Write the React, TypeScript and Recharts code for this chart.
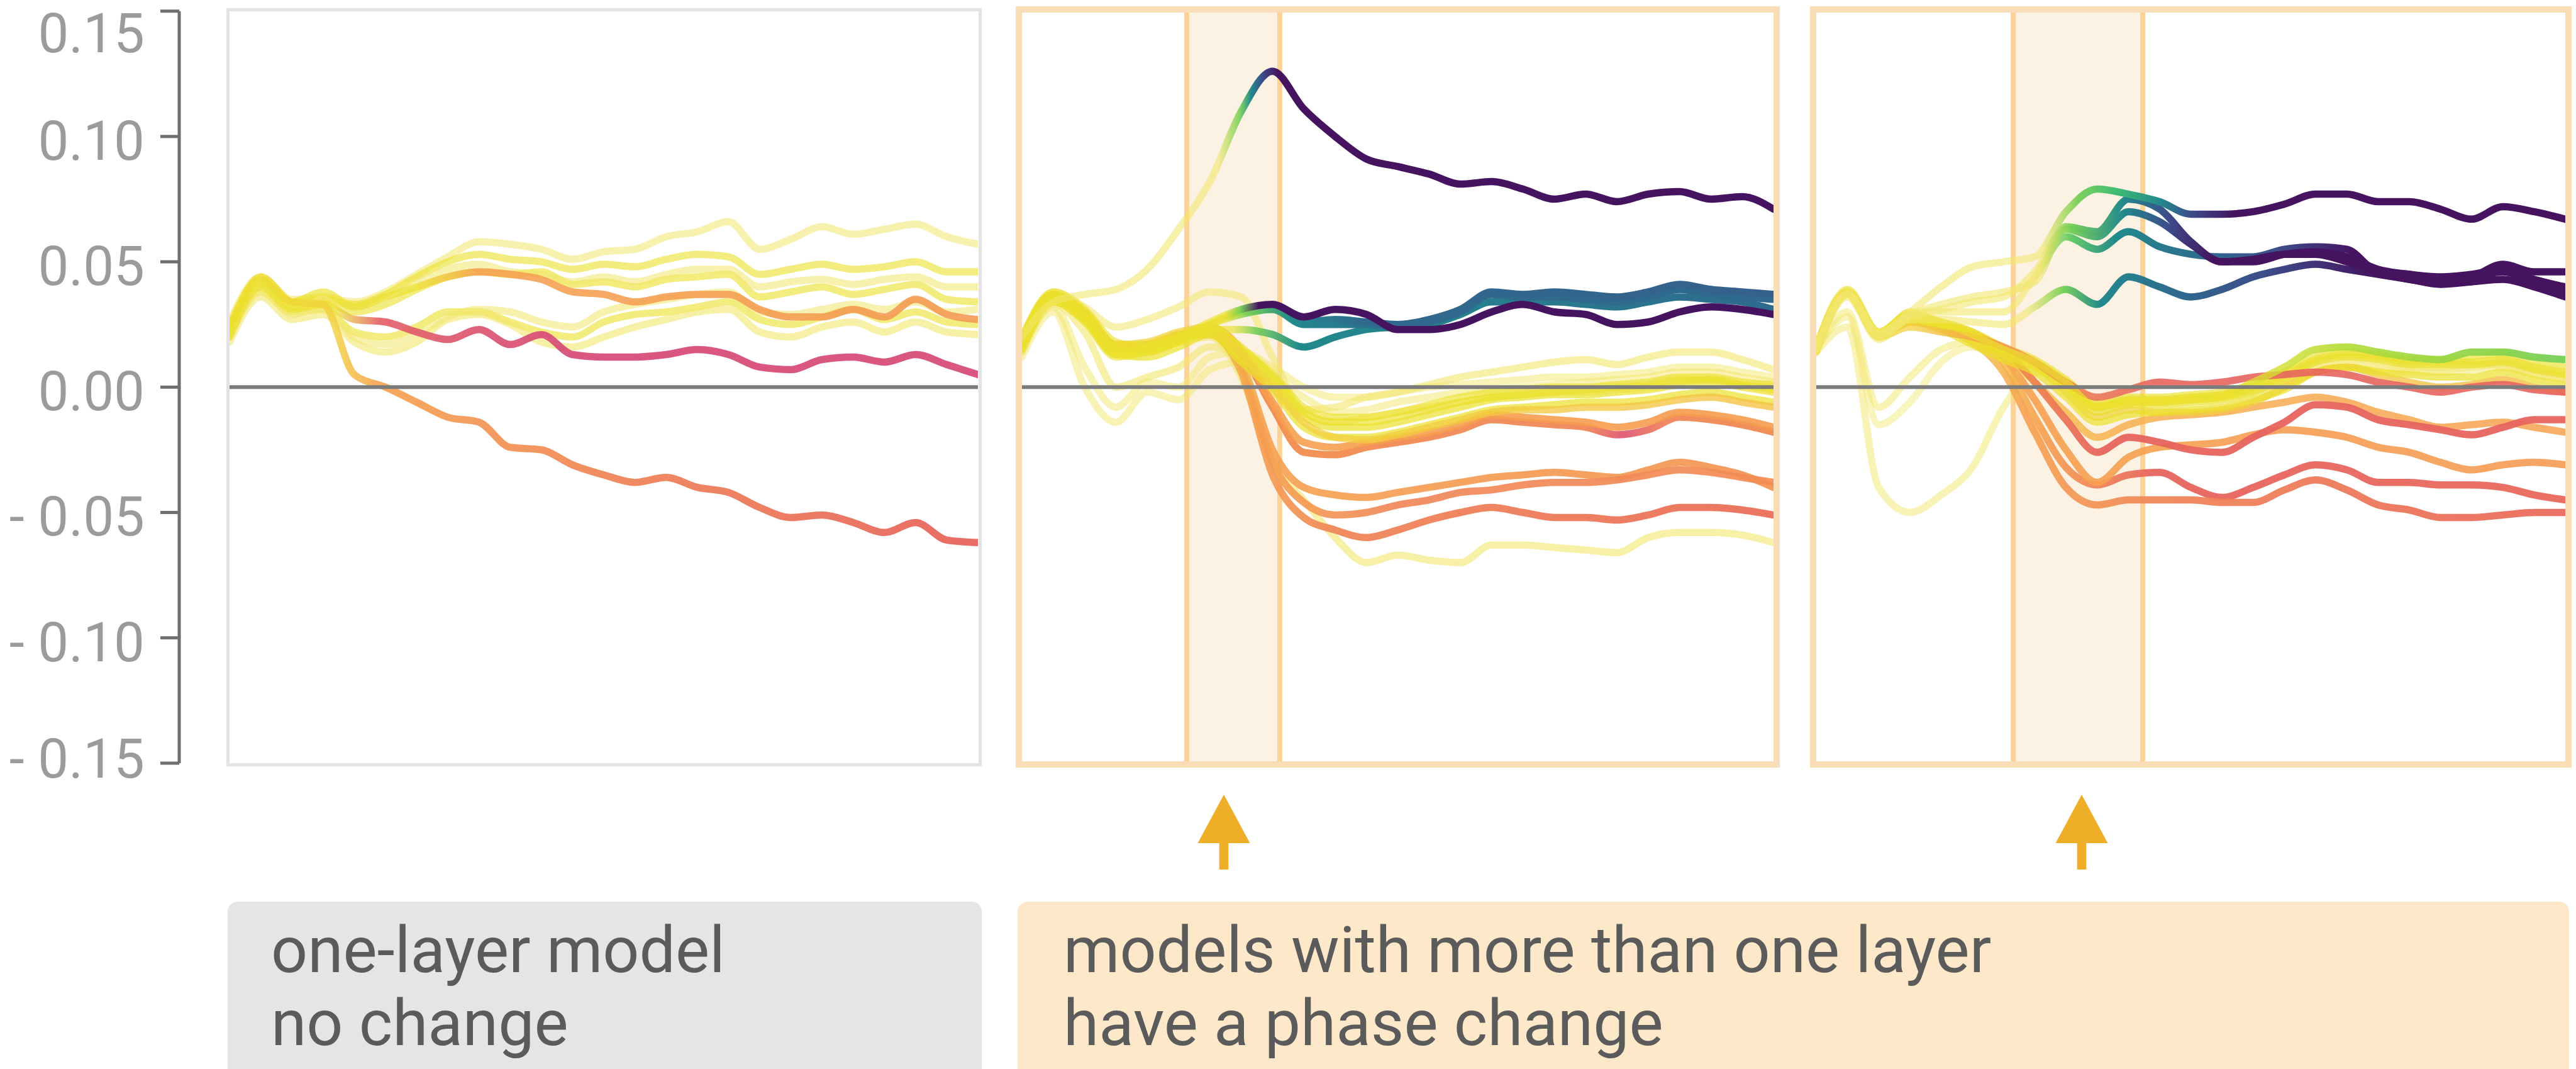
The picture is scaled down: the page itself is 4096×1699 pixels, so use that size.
import { LineChart, Line, XAxis, YAxis, ReferenceLine, ReferenceArea } from "recharts";

// training steps (x index) shared by every panel
const STEPS = [0, 1, 2, 3, 4, 5, 6, 7, 8, 9, 10, 11, 12, 13, 14, 15, 16, 17, 18, 19, 20, 21, 22, 23, 24];
const Y_TICKS = [0.15, 0.1, 0.05, 0, -0.05, -0.1, -0.15];

// phase change window, in step units
const BAND_TWO = [5.26, 8.23];
const BAND_THREE = [6.31, 10.46];

// ---- panel 1: one-layer model
const oneRed = [0.022, 0.044, 0.034, 0.033, 0.005, 0.0, -0.006, -0.012, -0.014, -0.024, -0.025, -0.031, -0.035, -0.038, -0.036, -0.04, -0.042, -0.048, -0.052, -0.051, -0.054, -0.058, -0.054, -0.061, -0.062];
const onePink = [0.02, 0.04, 0.031, 0.033, 0.027, 0.026, 0.022, 0.019, 0.023, 0.017, 0.021, 0.013, 0.012, 0.012, 0.013, 0.015, 0.013, 0.008, 0.007, 0.011, 0.012, 0.01, 0.013, 0.009, 0.005];
const oneOrange = [0.024, 0.043, 0.034, 0.038, 0.032, 0.036, 0.04, 0.044, 0.046, 0.045, 0.043, 0.038, 0.037, 0.034, 0.036, 0.037, 0.037, 0.031, 0.028, 0.028, 0.031, 0.028, 0.035, 0.029, 0.027];
const oneTop = [0.026, 0.044, 0.035, 0.036, 0.034, 0.038, 0.045, 0.052, 0.058, 0.057, 0.055, 0.051, 0.054, 0.055, 0.06, 0.062, 0.066, 0.055, 0.059, 0.064, 0.061, 0.063, 0.065, 0.06, 0.057];
const oneHigh = [0.024, 0.042, 0.034, 0.035, 0.033, 0.037, 0.044, 0.05, 0.053, 0.051, 0.05, 0.047, 0.049, 0.048, 0.051, 0.053, 0.052, 0.045, 0.047, 0.049, 0.047, 0.048, 0.05, 0.046, 0.046];
const oneMid = [0.023, 0.041, 0.032, 0.034, 0.03, 0.033, 0.039, 0.044, 0.046, 0.045, 0.046, 0.041, 0.042, 0.04, 0.043, 0.044, 0.045, 0.036, 0.038, 0.04, 0.037, 0.039, 0.041, 0.035, 0.034];
const oneMid2 = [0.025, 0.043, 0.034, 0.036, 0.032, 0.036, 0.042, 0.047, 0.049, 0.046, 0.045, 0.042, 0.044, 0.042, 0.045, 0.047, 0.047, 0.04, 0.042, 0.043, 0.041, 0.043, 0.044, 0.04, 0.04];
const oneLow = [0.02, 0.038, 0.03, 0.031, 0.022, 0.02, 0.024, 0.03, 0.03, 0.026, 0.022, 0.02, 0.026, 0.029, 0.03, 0.032, 0.034, 0.027, 0.025, 0.028, 0.031, 0.027, 0.03, 0.026, 0.025];
const oneLow2 = [0.018, 0.036, 0.027, 0.029, 0.018, 0.014, 0.018, 0.027, 0.029, 0.025, 0.018, 0.016, 0.02, 0.024, 0.027, 0.03, 0.031, 0.022, 0.02, 0.024, 0.026, 0.022, 0.026, 0.022, 0.021];
const oneLow3 = [0.021, 0.039, 0.029, 0.032, 0.02, 0.017, 0.021, 0.028, 0.031, 0.03, 0.026, 0.024, 0.03, 0.033, 0.035, 0.037, 0.038, 0.03, 0.029, 0.031, 0.033, 0.031, 0.034, 0.03, 0.031];

// ---- panel 2: two-layer model
const twoSpike = [0.02, 0.034, 0.037, 0.039, 0.047, 0.063, 0.082, 0.11, 0.126, 0.111, 0.1, 0.091, 0.088, 0.085, 0.081, 0.082, 0.079, 0.075, 0.077, 0.074, 0.077, 0.078, 0.075, 0.076, 0.071];
const twoPurple = [0.016, 0.036, 0.028, 0.014, 0.016, 0.02, 0.026, 0.031, 0.033, 0.028, 0.031, 0.029, 0.023, 0.023, 0.025, 0.03, 0.033, 0.03, 0.029, 0.025, 0.026, 0.03, 0.032, 0.031, 0.029];
const twoBlue = [0.016, 0.035, 0.027, 0.013, 0.015, 0.019, 0.025, 0.03, 0.031, 0.025, 0.025, 0.025, 0.024, 0.026, 0.03, 0.037, 0.036, 0.036, 0.035, 0.034, 0.036, 0.039, 0.037, 0.036, 0.035];
const twoTeal = [0.015, 0.034, 0.026, 0.012, 0.014, 0.018, 0.023, 0.023, 0.021, 0.016, 0.02, 0.023, 0.024, 0.025, 0.029, 0.034, 0.034, 0.034, 0.033, 0.032, 0.034, 0.036, 0.035, 0.034, 0.031];
const twoBlue2 = [0.017, 0.036, 0.028, 0.014, 0.016, 0.02, 0.025, 0.029, 0.031, 0.026, 0.027, 0.026, 0.025, 0.027, 0.031, 0.038, 0.037, 0.038, 0.037, 0.036, 0.038, 0.041, 0.039, 0.038, 0.037];
const twoYellowA = [0.017, 0.036, 0.03, 0.016, 0.014, 0.018, 0.022, 0.012, 0.002, -0.012, -0.016, -0.016, -0.014, -0.011, -0.008, -0.005, -0.004, -0.003, -0.003, -0.002, -0.001, 0.001, 0.002, 0.0, -0.002];
const twoYellowB = [0.019, 0.038, 0.031, 0.018, 0.016, 0.02, 0.024, 0.015, 0.005, -0.008, -0.012, -0.012, -0.01, -0.007, -0.004, -0.002, -0.001, 0.0, 0.0, 0.001, 0.002, 0.004, 0.004, 0.002, 0.001];
const twoYellowC = [0.015, 0.034, 0.027, 0.013, 0.012, 0.016, 0.021, 0.01, -0.001, -0.016, -0.02, -0.02, -0.018, -0.015, -0.012, -0.009, -0.008, -0.007, -0.006, -0.006, -0.005, -0.003, -0.002, -0.004, -0.006];
const twoYellowD = [0.02, 0.037, 0.03, 0.017, 0.017, 0.021, 0.023, 0.013, 0.0, -0.014, -0.02, -0.021, -0.019, -0.016, -0.013, -0.01, -0.009, -0.009, -0.008, -0.008, -0.007, -0.005, -0.004, -0.006, -0.008];
const twoYellowE = [0.018, 0.037, 0.029, 0.015, 0.015, 0.019, 0.023, 0.016, 0.004, -0.01, -0.014, -0.014, -0.012, -0.009, -0.006, -0.004, -0.003, -0.002, -0.001, 0.0, 0.001, 0.003, 0.003, 0.001, -0.001];
const twoOrangeA = [0.018, 0.036, 0.029, 0.016, 0.017, 0.021, 0.023, 0.014, -0.008, -0.026, -0.027, -0.024, -0.022, -0.02, -0.017, -0.013, -0.014, -0.015, -0.016, -0.019, -0.017, -0.012, -0.013, -0.015, -0.018];
const twoOrangeB = [0.019, 0.037, 0.03, 0.017, 0.018, 0.022, 0.024, 0.015, -0.006, -0.022, -0.024, -0.022, -0.02, -0.018, -0.015, -0.011, -0.012, -0.013, -0.014, -0.016, -0.014, -0.01, -0.011, -0.013, -0.016];
const twoOrangeC = [0.019, 0.037, 0.029, 0.016, 0.017, 0.021, 0.022, 0.01, -0.025, -0.04, -0.043, -0.044, -0.042, -0.04, -0.038, -0.036, -0.035, -0.034, -0.035, -0.036, -0.033, -0.03, -0.032, -0.035, -0.04];
const twoOrangeD = [0.018, 0.036, 0.028, 0.015, 0.016, 0.02, 0.022, 0.008, -0.03, -0.046, -0.051, -0.05, -0.047, -0.045, -0.042, -0.041, -0.039, -0.038, -0.038, -0.037, -0.035, -0.033, -0.034, -0.036, -0.038];
const twoRed = [0.017, 0.035, 0.027, 0.014, 0.015, 0.019, 0.021, 0.006, -0.035, -0.052, -0.057, -0.06, -0.057, -0.053, -0.05, -0.048, -0.05, -0.052, -0.052, -0.053, -0.051, -0.048, -0.048, -0.049, -0.051];
const twoPaleLow = [0.016, 0.034, 0.026, 0.013, 0.014, 0.018, 0.02, 0.004, -0.03, -0.045, -0.06, -0.07, -0.067, -0.069, -0.07, -0.063, -0.063, -0.064, -0.065, -0.066, -0.06, -0.058, -0.058, -0.059, -0.062];
const twoPaleHigh = [0.014, 0.033, 0.022, 0.0, 0.004, 0.008, 0.016, 0.014, 0.006, -0.009, -0.008, -0.004, -0.002, 0.001, 0.004, 0.006, 0.008, 0.01, 0.011, 0.009, 0.012, 0.014, 0.014, 0.011, 0.007];
const twoPaleDip = [0.012, 0.03, 0.0, -0.014, -0.002, -0.005, 0.007, 0.01, 0.004, -0.004, -0.01, -0.009, -0.006, -0.004, -0.002, -0.001, 0.0, 0.001, 0.002, 0.003, 0.004, 0.006, 0.006, 0.004, 0.002];
const twoPaleDip2 = [0.014, 0.032, 0.008, -0.008, 0.002, 0.0, 0.012, 0.014, 0.008, 0.0, -0.004, -0.004, -0.002, 0.0, 0.001, 0.002, 0.003, 0.004, 0.004, 0.005, 0.006, 0.008, 0.008, 0.006, 0.004];
const twoPaleBump = [0.02, 0.038, 0.032, 0.024, 0.027, 0.032, 0.038, 0.036, 0.012, -0.01, -0.014, -0.012, -0.01, -0.008, -0.006, -0.004, -0.003, -0.002, -0.002, -0.001, 0.0, 0.002, 0.003, 0.001, 0.0];

// ---- panel 3: three-layer model
const threeTop = [0.016, 0.038, 0.022, 0.03, 0.04, 0.048, 0.05, 0.052, 0.07, 0.079, 0.077, 0.074, 0.069, 0.069, 0.07, 0.073, 0.077, 0.077, 0.074, 0.074, 0.071, 0.067, 0.072, 0.07, 0.067];
const threeUpper = [0.015, 0.037, 0.021, 0.029, 0.033, 0.036, 0.038, 0.042, 0.064, 0.062, 0.075, 0.071, 0.058, 0.05, 0.051, 0.053, 0.053, 0.05, 0.046, 0.043, 0.042, 0.044, 0.049, 0.046, 0.046];
const threeUpper2 = [0.015, 0.037, 0.021, 0.029, 0.031, 0.034, 0.036, 0.046, 0.063, 0.06, 0.07, 0.066, 0.057, 0.05, 0.05, 0.053, 0.054, 0.052, 0.047, 0.045, 0.044, 0.045, 0.047, 0.043, 0.04];
const threeTeal = [0.015, 0.037, 0.02, 0.028, 0.03, 0.03, 0.03, 0.044, 0.06, 0.055, 0.062, 0.056, 0.053, 0.052, 0.052, 0.055, 0.056, 0.055, 0.046, 0.045, 0.043, 0.044, 0.046, 0.042, 0.038];
const threeTealLow = [0.014, 0.036, 0.019, 0.027, 0.027, 0.026, 0.025, 0.032, 0.039, 0.033, 0.044, 0.04, 0.036, 0.039, 0.044, 0.047, 0.049, 0.047, 0.045, 0.043, 0.041, 0.042, 0.043, 0.04, 0.036];
const threeYellowA = [0.015, 0.038, 0.021, 0.028, 0.024, 0.019, 0.013, 0.008, 0.0, -0.01, -0.007, -0.007, -0.006, -0.005, -0.002, 0.003, 0.01, 0.012, 0.011, 0.009, 0.009, 0.009, 0.01, 0.007, 0.005];
const threeYellowB = [0.016, 0.039, 0.022, 0.029, 0.026, 0.022, 0.016, 0.011, 0.003, -0.006, -0.004, -0.004, -0.003, -0.002, 0.001, 0.006, 0.012, 0.014, 0.013, 0.011, 0.011, 0.012, 0.013, 0.01, 0.008];
const threeYellowC = [0.014, 0.037, 0.02, 0.027, 0.023, 0.017, 0.011, 0.006, -0.004, -0.014, -0.011, -0.01, -0.009, -0.008, -0.005, -0.001, 0.006, 0.008, 0.006, 0.005, 0.004, 0.004, 0.006, 0.003, 0.001];
const threeYellowD = [0.015, 0.038, 0.021, 0.03, 0.025, 0.02, 0.014, 0.009, -0.002, -0.012, -0.009, -0.01, -0.01, -0.009, -0.006, 0.0, 0.006, 0.008, 0.005, 0.002, 0.0, 0.001, 0.003, 0.0, -0.002];
const threeYellowE = [0.016, 0.038, 0.022, 0.029, 0.025, 0.021, 0.015, 0.01, 0.001, -0.008, -0.006, -0.006, -0.005, -0.004, 0.0, 0.005, 0.011, 0.013, 0.012, 0.01, 0.01, 0.01, 0.011, 0.008, 0.006];
const threeGreen = [0.016, 0.038, 0.022, 0.029, 0.026, 0.021, 0.015, 0.01, 0.002, -0.008, -0.005, -0.005, -0.004, -0.003, 0.002, 0.008, 0.015, 0.016, 0.014, 0.012, 0.011, 0.014, 0.014, 0.012, 0.011];
const threeRedZero = [0.015, 0.038, 0.02, 0.024, 0.022, 0.02, 0.016, 0.01, 0.002, -0.004, -0.001, 0.002, 0.001, 0.002, 0.004, 0.005, 0.006, 0.005, 0.002, 0.0, -0.002, 0.0, 0.001, -0.001, -0.002];
const threeRed = [0.015, 0.038, 0.02, 0.026, 0.024, 0.021, 0.015, 0.002, -0.013, -0.026, -0.02, -0.022, -0.025, -0.026, -0.02, -0.014, -0.007, -0.008, -0.013, -0.015, -0.017, -0.019, -0.016, -0.013, -0.013];
const threeOrange = [0.016, 0.038, 0.021, 0.027, 0.025, 0.021, 0.012, -0.005, -0.025, -0.038, -0.028, -0.024, -0.023, -0.022, -0.019, -0.017, -0.018, -0.02, -0.024, -0.026, -0.03, -0.033, -0.031, -0.03, -0.031];
const threeOrange2 = [0.016, 0.038, 0.021, 0.028, 0.026, 0.022, 0.014, 0.002, -0.01, -0.02, -0.015, -0.012, -0.011, -0.01, -0.008, -0.006, -0.004, -0.006, -0.01, -0.013, -0.016, -0.015, -0.014, -0.016, -0.018];
const threeRedLow = [0.015, 0.037, 0.02, 0.026, 0.024, 0.02, 0.01, -0.012, -0.032, -0.039, -0.035, -0.034, -0.04, -0.044, -0.04, -0.035, -0.031, -0.033, -0.038, -0.038, -0.039, -0.039, -0.04, -0.043, -0.045];
const threeRedLow2 = [0.015, 0.037, 0.02, 0.026, 0.023, 0.018, 0.006, -0.018, -0.04, -0.047, -0.045, -0.045, -0.045, -0.046, -0.046, -0.041, -0.037, -0.041, -0.047, -0.049, -0.052, -0.052, -0.051, -0.05, -0.05];
const threePaleDip = [0.014, 0.024, -0.04, -0.05, -0.043, -0.032, -0.008, 0.006, 0.002, -0.008, -0.006, -0.006, -0.005, -0.004, -0.001, 0.004, 0.01, 0.011, 0.01, 0.008, 0.008, 0.009, 0.009, 0.006, 0.004];
const threePaleDip2 = [0.015, 0.03, -0.008, 0.004, 0.015, 0.018, 0.012, 0.008, 0.0, -0.008, -0.006, -0.006, -0.005, -0.004, -0.002, 0.002, 0.007, 0.008, 0.007, 0.006, 0.006, 0.007, 0.008, 0.005, 0.003];
const threePaleDip3 = [0.015, 0.028, -0.015, -0.006, 0.01, 0.016, 0.013, 0.009, 0.001, -0.007, -0.005, -0.005, -0.004, -0.003, -0.001, 0.003, 0.008, 0.009, 0.008, 0.007, 0.007, 0.008, 0.009, 0.006, 0.004];

// colours
const PALE = "#f2e66c";
const YELLOW = "#ebe02a";
const GOLD = "#f2cf3c";
const ORANGE = "#f6a04f";
const SALMON = "#f08759";
const RED = "#e7645e";
const PINK = "#d74e79";
const GREEN = "#74cf56";
const LIME = "#b4dc34";
const TEAL = "#22898d";
const BLUE = "#2f6a8e";
const INDIGO = "#3c4d8a";
const PURPLE = "#45135f";

type Stop = [number, string, number];
type Series = { name: string; values: number[]; stops: Stop[]; width?: number };

const pale = (a = 0.55): Stop[] => [[0, PALE, a], [1, PALE, a]];
const yellow = (a = 0.68): Stop[] => [[0, YELLOW, a], [1, YELLOW, a]];

const ONE_LAYER: Series[] = [
  { name: "top", values: oneTop, stops: pale(0.55) },
  { name: "high", values: oneHigh, stops: yellow(0.6) },
  { name: "mid", values: oneMid, stops: yellow(0.6) },
  { name: "mid2", values: oneMid2, stops: pale(0.55) },
  { name: "low", values: oneLow, stops: yellow(0.6) },
  { name: "low2", values: oneLow2, stops: pale(0.6) },
  { name: "low3", values: oneLow3, stops: pale(0.55) },
  { name: "orange", values: oneOrange, stops: [[0, YELLOW, 0.65], [0.25, YELLOW, 0.65], [0.33, ORANGE, 0.88], [1, "#f39a52", 0.9]] },
  { name: "pink", values: onePink, stops: [[0, YELLOW, 0.65], [0.14, YELLOW, 0.65], [0.2, "#e35d67", 0.9], [0.45, PINK, 0.95], [1, PINK, 0.95]] },
  { name: "red", values: oneRed, stops: [[0, YELLOW, 0.65], [0.14, GOLD, 0.8], [0.2, ORANGE, 0.9], [0.5, SALMON, 0.95], [1, RED, 0.95]] },
];

const TWO_LAYER: Series[] = [
  { name: "paleDip", values: twoPaleDip, stops: pale(0.5) },
  { name: "paleDip2", values: twoPaleDip2, stops: pale(0.5) },
  { name: "paleBump", values: twoPaleBump, stops: pale(0.55) },
  { name: "paleHigh", values: twoPaleHigh, stops: pale(0.6) },
  { name: "paleLow", values: twoPaleLow, stops: pale(0.6) },
  { name: "orangeC", values: twoOrangeC, stops: [[0, YELLOW, 0.65], [0.24, YELLOW, 0.65], [0.32, ORANGE, 0.9], [1, "#f39352", 0.92]] },
  { name: "orangeD", values: twoOrangeD, stops: [[0, YELLOW, 0.65], [0.24, YELLOW, 0.65], [0.32, ORANGE, 0.9], [0.5, SALMON, 0.92], [1, "#f38c55", 0.92]] },
  { name: "red", values: twoRed, stops: [[0, YELLOW, 0.65], [0.22, YELLOW, 0.65], [0.3, ORANGE, 0.9], [0.42, SALMON, 0.95], [1, "#ea6e5a", 0.95]] },
  { name: "orangeA", values: twoOrangeA, stops: [[0, YELLOW, 0.65], [0.2, GOLD, 0.75], [0.3, "#f28a48", 0.92], [0.75, SALMON, 0.95], [0.8, "#df5a74", 0.95], [0.86, SALMON, 0.95], [1, "#f08a4f", 0.95]] },
  { name: "orangeB", values: twoOrangeB, stops: [[0, YELLOW, 0.65], [0.22, GOLD, 0.75], [0.32, ORANGE, 0.9], [1, "#f59a4c", 0.9]] },
  { name: "yellowA", values: twoYellowA, stops: yellow(0.7) },
  { name: "yellowB", values: twoYellowB, stops: yellow(0.65) },
  { name: "yellowC", values: twoYellowC, stops: yellow(0.7) },
  { name: "yellowE", values: twoYellowE, stops: yellow(0.65) },
  { name: "yellowD", values: twoYellowD, stops: [[0, YELLOW, 0.65], [0.4, GOLD, 0.72], [1, "#f5c040", 0.78]] },
  { name: "teal", values: twoTeal, stops: [[0, YELLOW, 0.6], [0.28, YELLOW, 0.65], [0.31, GREEN, 0.9], [0.37, TEAL, 1], [0.6, "#277f8e", 1], [1, BLUE, 1]] },
  { name: "blue", values: twoBlue, stops: [[0, YELLOW, 0.6], [0.27, YELLOW, 0.65], [0.3, GREEN, 0.9], [0.36, TEAL, 1], [0.5, BLUE, 1], [1, BLUE, 1]] },
  { name: "blue2", values: twoBlue2, stops: [[0, YELLOW, 0.6], [0.27, YELLOW, 0.65], [0.3, GREEN, 0.9], [0.36, TEAL, 1], [0.45, BLUE, 1], [1, "#35608d", 1]] },
  { name: "purple", values: twoPurple, stops: [[0, YELLOW, 0.6], [0.27, YELLOW, 0.65], [0.29, GREEN, 0.9], [0.315, PURPLE, 1], [1, PURPLE, 1]] },
  { name: "spike", values: twoSpike, stops: [[0, PALE, 0.55], [0.26, PALE, 0.6], [0.29, GREEN, 0.9], [0.305, TEAL, 1], [0.32, INDIGO, 1], [0.34, PURPLE, 1], [1, PURPLE, 1]] },
];

const THREE_LAYER: Series[] = [
  { name: "paleDip", values: threePaleDip, stops: pale(0.5) },
  { name: "paleDip2", values: threePaleDip2, stops: pale(0.5) },
  { name: "paleDip3", values: threePaleDip3, stops: pale(0.45) },
  { name: "redLow", values: threeRedLow, stops: [[0, YELLOW, 0.65], [0.2, GOLD, 0.75], [0.3, ORANGE, 0.9], [0.45, RED, 0.95], [1, "#e9695c", 0.95]] },
  { name: "redLow2", values: threeRedLow2, stops: [[0, YELLOW, 0.65], [0.18, GOLD, 0.75], [0.28, ORANGE, 0.9], [0.45, SALMON, 0.95], [1, "#ea6a5c", 0.95]] },
  { name: "orange", values: threeOrange, stops: [[0, YELLOW, 0.65], [0.16, GOLD, 0.75], [0.28, ORANGE, 0.9], [1, "#f59a52", 0.9]] },
  { name: "orange2", values: threeOrange2, stops: [[0, YELLOW, 0.65], [0.2, GOLD, 0.75], [0.4, "#f7b04e", 0.85], [1, ORANGE, 0.85]] },
  { name: "red", values: threeRed, stops: [[0, YELLOW, 0.65], [0.14, GOLD, 0.75], [0.26, "#f08a4b", 0.9], [0.38, RED, 0.95], [1, RED, 0.95]] },
  { name: "yellowD", values: threeYellowD, stops: [[0, YELLOW, 0.65], [0.5, GOLD, 0.72], [1, "#f5b843", 0.8]] },
  { name: "yellowA", values: threeYellowA, stops: yellow(0.7) },
  { name: "yellowB", values: threeYellowB, stops: yellow(0.65) },
  { name: "yellowC", values: threeYellowC, stops: yellow(0.7) },
  { name: "yellowE", values: threeYellowE, stops: yellow(0.65) },
  { name: "redZero", values: threeRedZero, stops: [[0, YELLOW, 0.65], [0.13, GOLD, 0.75], [0.22, ORANGE, 0.9], [0.45, RED, 0.9], [1, RED, 0.9]] },
  { name: "green", values: threeGreen, stops: [[0, YELLOW, 0.7], [0.55, YELLOW, 0.72], [0.7, LIME, 0.9], [1, GREEN, 0.95]] },
  { name: "tealLow", values: threeTealLow, stops: [[0, PALE, 0.55], [0.28, PALE, 0.6], [0.33, GREEN, 0.95], [0.38, TEAL, 1], [0.48, BLUE, 1], [0.6, INDIGO, 1], [0.75, PURPLE, 1], [1, PURPLE, 1]] },
  { name: "teal", values: threeTeal, stops: [[0, PALE, 0.55], [0.29, PALE, 0.6], [0.34, "#5ec962", 0.95], [0.4, TEAL, 1], [0.52, BLUE, 1], [0.62, INDIGO, 1], [0.72, PURPLE, 1], [1, PURPLE, 1]] },
  { name: "upper2", values: threeUpper2, stops: [[0, PALE, 0.55], [0.3, PALE, 0.6], [0.34, GREEN, 0.95], [0.41, TEAL, 1], [0.47, INDIGO, 1], [0.52, PURPLE, 1], [1, PURPLE, 1]] },
  { name: "upper", values: threeUpper, stops: [[0, PALE, 0.55], [0.3, PALE, 0.6], [0.34, GREEN, 0.95], [0.41, TEAL, 1], [0.47, INDIGO, 1], [0.53, PURPLE, 1], [1, PURPLE, 1]] },
  { name: "top", values: threeTop, stops: [[0, PALE, 0.55], [0.3, PALE, 0.6], [0.35, GREEN, 0.95], [0.4, "#3fbc73", 1], [0.46, TEAL, 1], [0.5, INDIGO, 1], [0.56, PURPLE, 1], [1, PURPLE, 1]] },
];

const CHART_H = 1230;
const MARGIN = { top: 17.7, right: 0, bottom: 17.1, left: 0 };
const AXIS_H = 1300;
const AXIS_MARGIN = { top: 17.7, right: 0, bottom: 87.1, left: 0 };
const FONT = "Roboto, 'Noto Sans', sans-serif";
const LINE_W = 11.5;

const fmtTick = (v: number) => (v < 0 ? `- ${Math.abs(v).toFixed(2)}` : v.toFixed(2));

function buildRows(series: Series[]) {
  return STEPS.map((step, i) => {
    const row: Record<string, number> = { step };
    series.forEach((s) => {
      row[s.name] = s.values[i];
    });
    return row;
  });
}

function AxisTick(props: any) {
  const { x, y, payload } = props;
  const v = payload.value;
  const shift = v === 0.15 ? 34 : v === -0.15 ? -8 : 6;
  return (
    <text x={x} y={y + shift} dy="0.355em" textAnchor="end" fill="#9b9b9b" fontSize={87} fontFamily={FONT}>
      {fmtTick(v)}
    </text>
  );
}

function Panel({ id, series, left, width, band }: { id: string; series: Series[]; left: number; width: number; band?: number[] }) {
  const rows = buildRows(series);
  return (
    <div style={{ position: "absolute", left, top: 0 }}>
      <LineChart width={width} height={CHART_H} data={rows} margin={MARGIN}>
        <defs>
          {series.map((s) => (
            <linearGradient key={s.name} id={`${id}-${s.name}`} x1="0" y1="0" x2="1" y2="0">
              {s.stops.map(([o, c, a], j) => (
                <stop key={j} offset={o} stopColor={c} stopOpacity={a} />
              ))}
            </linearGradient>
          ))}
        </defs>
        <XAxis dataKey="step" type="number" domain={[0, 24]} hide />
        <YAxis type="number" domain={[-0.15, 0.15]} hide />
        {band && <ReferenceArea x1={band[0]} x2={band[1]} fill="#fbf2e3" fillOpacity={1} stroke="none" />}
        {band && <ReferenceLine x={band[0]} stroke="#fdd296" strokeWidth={8} />}
        {band && <ReferenceLine x={band[1]} stroke="#fdd296" strokeWidth={8} />}
        {series.map((s) => (
          <Line
            key={s.name}
            dataKey={s.name}
            type="monotone"
            stroke={`url(#${id}-${s.name})`}
            strokeWidth={s.width ?? LINE_W}
            strokeLinecap="round"
            strokeLinejoin="round"
            dot={false}
            activeDot={false}
            isAnimationActive={false}
          />
        ))}
        <ReferenceLine y={0} stroke="#7b7b7b" strokeWidth={6} />
      </LineChart>
    </div>
  );
}

function Arrow({ x }: { x: number }) {
  return (
    <svg style={{ position: "absolute", left: x - 45, top: 1255 }} width={90} height={135}>
      <polygon points="45,8 3.5,85 86.5,85" fill="#eeae28" />
      <rect x={37.7} y={84} width={14.6} height={43} fill="#eeae28" />
    </svg>
  );
}

const frame = (left: number, width: number, border: number, color: string) => (
  <div
    style={{
      position: "absolute",
      left,
      top: 15 - border / 2,
      width,
      height: 1200 + border,
      boxSizing: "border-box",
      border: `${border}px solid ${color}`,
      pointerEvents: "none",
    }}
  />
);

export default function App() {
  const axisRows = buildRows(ONE_LAYER);
  return (
    <div style={{ position: "absolute", left: 0, top: 0, width: 4096, height: 1699, overflow: "hidden", background: "#fff", fontFamily: FONT }}>
      <div style={{ position: "absolute", left: 0, top: 0 }}>
        <LineChart width={300} height={AXIS_H} data={axisRows} margin={AXIS_MARGIN}>
          <XAxis dataKey="step" type="number" domain={[0, 24]} hide />
          <YAxis
            type="number"
            domain={[-0.15, 0.15]}
            ticks={Y_TICKS}
            interval={0}
            width={285}
            tickSize={30}
            tickMargin={25}
            axisLine={{ stroke: "#6f6f6f", strokeWidth: 5 }}
            tickLine={{ stroke: "#6f6f6f", strokeWidth: 5 }}
            tick={<AxisTick />}
          />
          <Line dataKey="red" stroke="none" dot={false} activeDot={false} isAnimationActive={false} />
        </LineChart>
      </div>

      <Panel id="one" series={ONE_LAYER} left={365} width={1190} />
      <Panel id="two" series={TWO_LAYER} left={1625} width={1195} band={BAND_TWO} />
      <Panel id="three" series={THREE_LAYER} left={2888} width={1191} band={BAND_THREE} />

      {frame(359.5, 1201, 5, "#e3e3e3")}
      {frame(1615, 1215, 10, "#f9ddb6")}
      {frame(2878, 1211, 10, "#f9ddb6")}

      <Arrow x={1946} />
      <Arrow x={3310} />

      <div style={{ position: "absolute", left: 362, top: 1433, width: 1199, height: 300, background: "#e5e5e5", borderRadius: 16 }}>
        <div style={{ position: "absolute", left: 69, top: 19, fontSize: 102, lineHeight: "116px", color: "#5b5b5b", whiteSpace: "nowrap" }}>
          <div>one-layer model</div>
          <div>no change</div>
        </div>
      </div>
      <div style={{ position: "absolute", left: 1618, top: 1433, width: 2467, height: 300, background: "#fde9c9", borderRadius: 16 }}>
        <div style={{ position: "absolute", left: 73, top: 19, fontSize: 102, lineHeight: "116px", color: "#5b5b5b", whiteSpace: "nowrap" }}>
          <div>models with more than one layer</div>
          <div>have a phase change</div>
        </div>
      </div>
    </div>
  );
}
